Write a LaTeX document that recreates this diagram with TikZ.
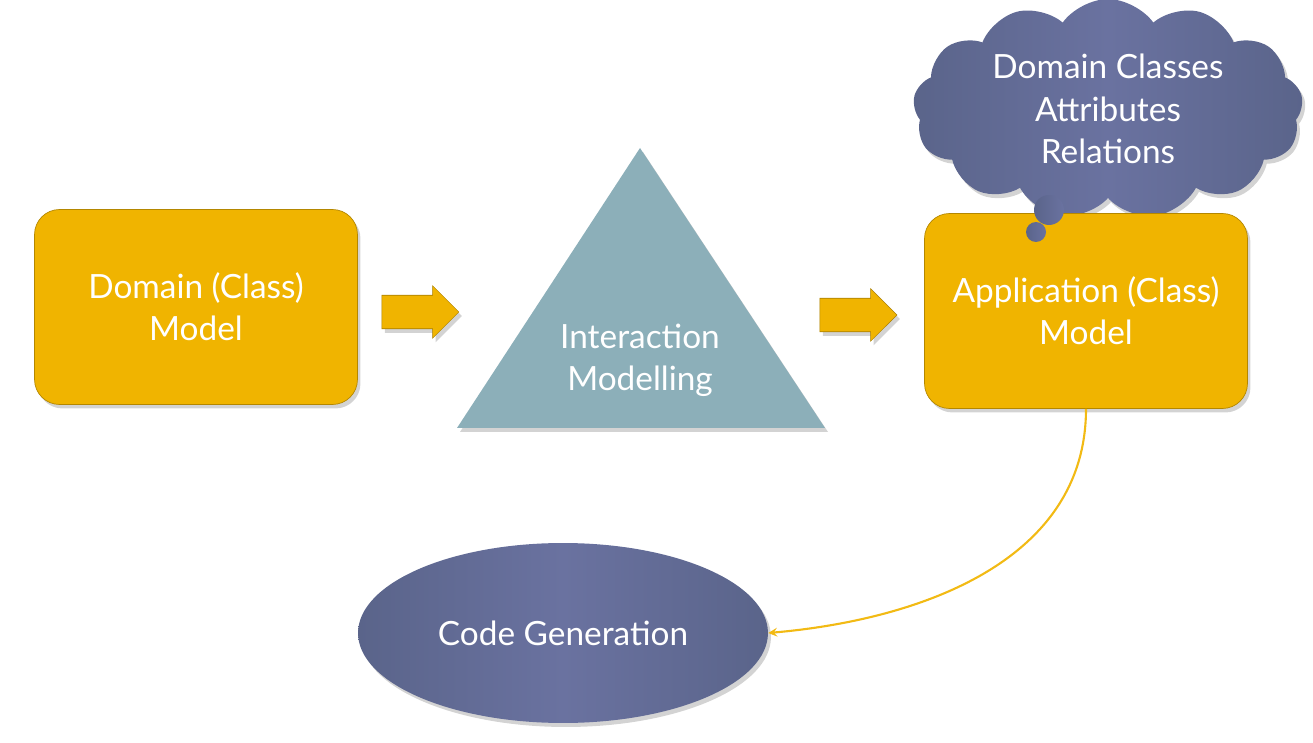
\documentclass[tikz,border=0pt]{standalone}
\usepackage{fontspec}
\setmainfont{Lato}
\usetikzlibrary{shapes.arrows,shapes.symbols,shapes.geometric,shadows}
\definecolor{boxgold}{RGB}{240,180,0}
\definecolor{trigrey}{RGB}{140,175,185}
\definecolor{inkdark}{RGB}{90,100,138}
\definecolor{inklight}{RGB}{106,114,160}
\definecolor{flowline}{RGB}{242,186,20}
\begin{document}
\begin{tikzpicture}[x=0.02cm,y=-0.02cm]
\tikzstyle{every node}+=[font=\fontsize{19}{24}\selectfont, text=white, align=center]
\tikzstyle{soft}=[drop shadow={opacity=0.35, shadow xshift=0.06cm, shadow yshift=-0.08cm}]
\tikzstyle{model}=[soft, rounded corners=0.5cm, fill=boxgold, draw=boxgold!75!black, minimum width=6.46cm, minimum height=3.9cm]
\tikzstyle{flow}=[soft, single arrow, fill=boxgold, draw=boxgold!70!black, line width=0.3pt, minimum height=1.54cm, single arrow head extend=0.19cm, inner sep=0.33cm]
\tikzstyle{bubble}=[circle, inner sep=0pt, left color=inkdark, right color=inklight]
\useasboundingbox (0,0) rectangle (1313,743);
\node[soft, cloud, cloud puffs=13, cloud puff arc=110, aspect=2, left color=inkdark, right color=inkdark, middle color=inklight, minimum width=7.8cm, minimum height=4.4cm] (note) at (1108,109) {Domain Classes\\Attributes\\Relations};
\node[model] (domain) at (196,307) {Domain (Class)\\Model};
\node[flow] (arrowA) at (412,312) {};
\fill[soft, trigrey] (457,428) -- (640,148) -- (825,428) -- cycle;
\node (inter) at (640,360) {Interaction\\Modelling};
\node[flow] (arrowB) at (850,315) {};
\node[model] (app) at (1086,311) {Application (Class)\\Model};
\node[bubble, minimum size=0.6cm] (puffA) at (1049,210) {};
\node[bubble, minimum size=0.4cm] (puffB) at (1036,232) {};
\node[soft, ellipse, left color=inkdark, right color=inkdark, middle color=inklight, minimum width=8.2cm, minimum height=3.6cm] (gen) at (563,633) {Code Generation};
\draw[flowline, line width=1.2pt, ->, >=stealth] (app.south) to[out=-90, in=5] (gen.east);
\end{tikzpicture}
\end{document}
